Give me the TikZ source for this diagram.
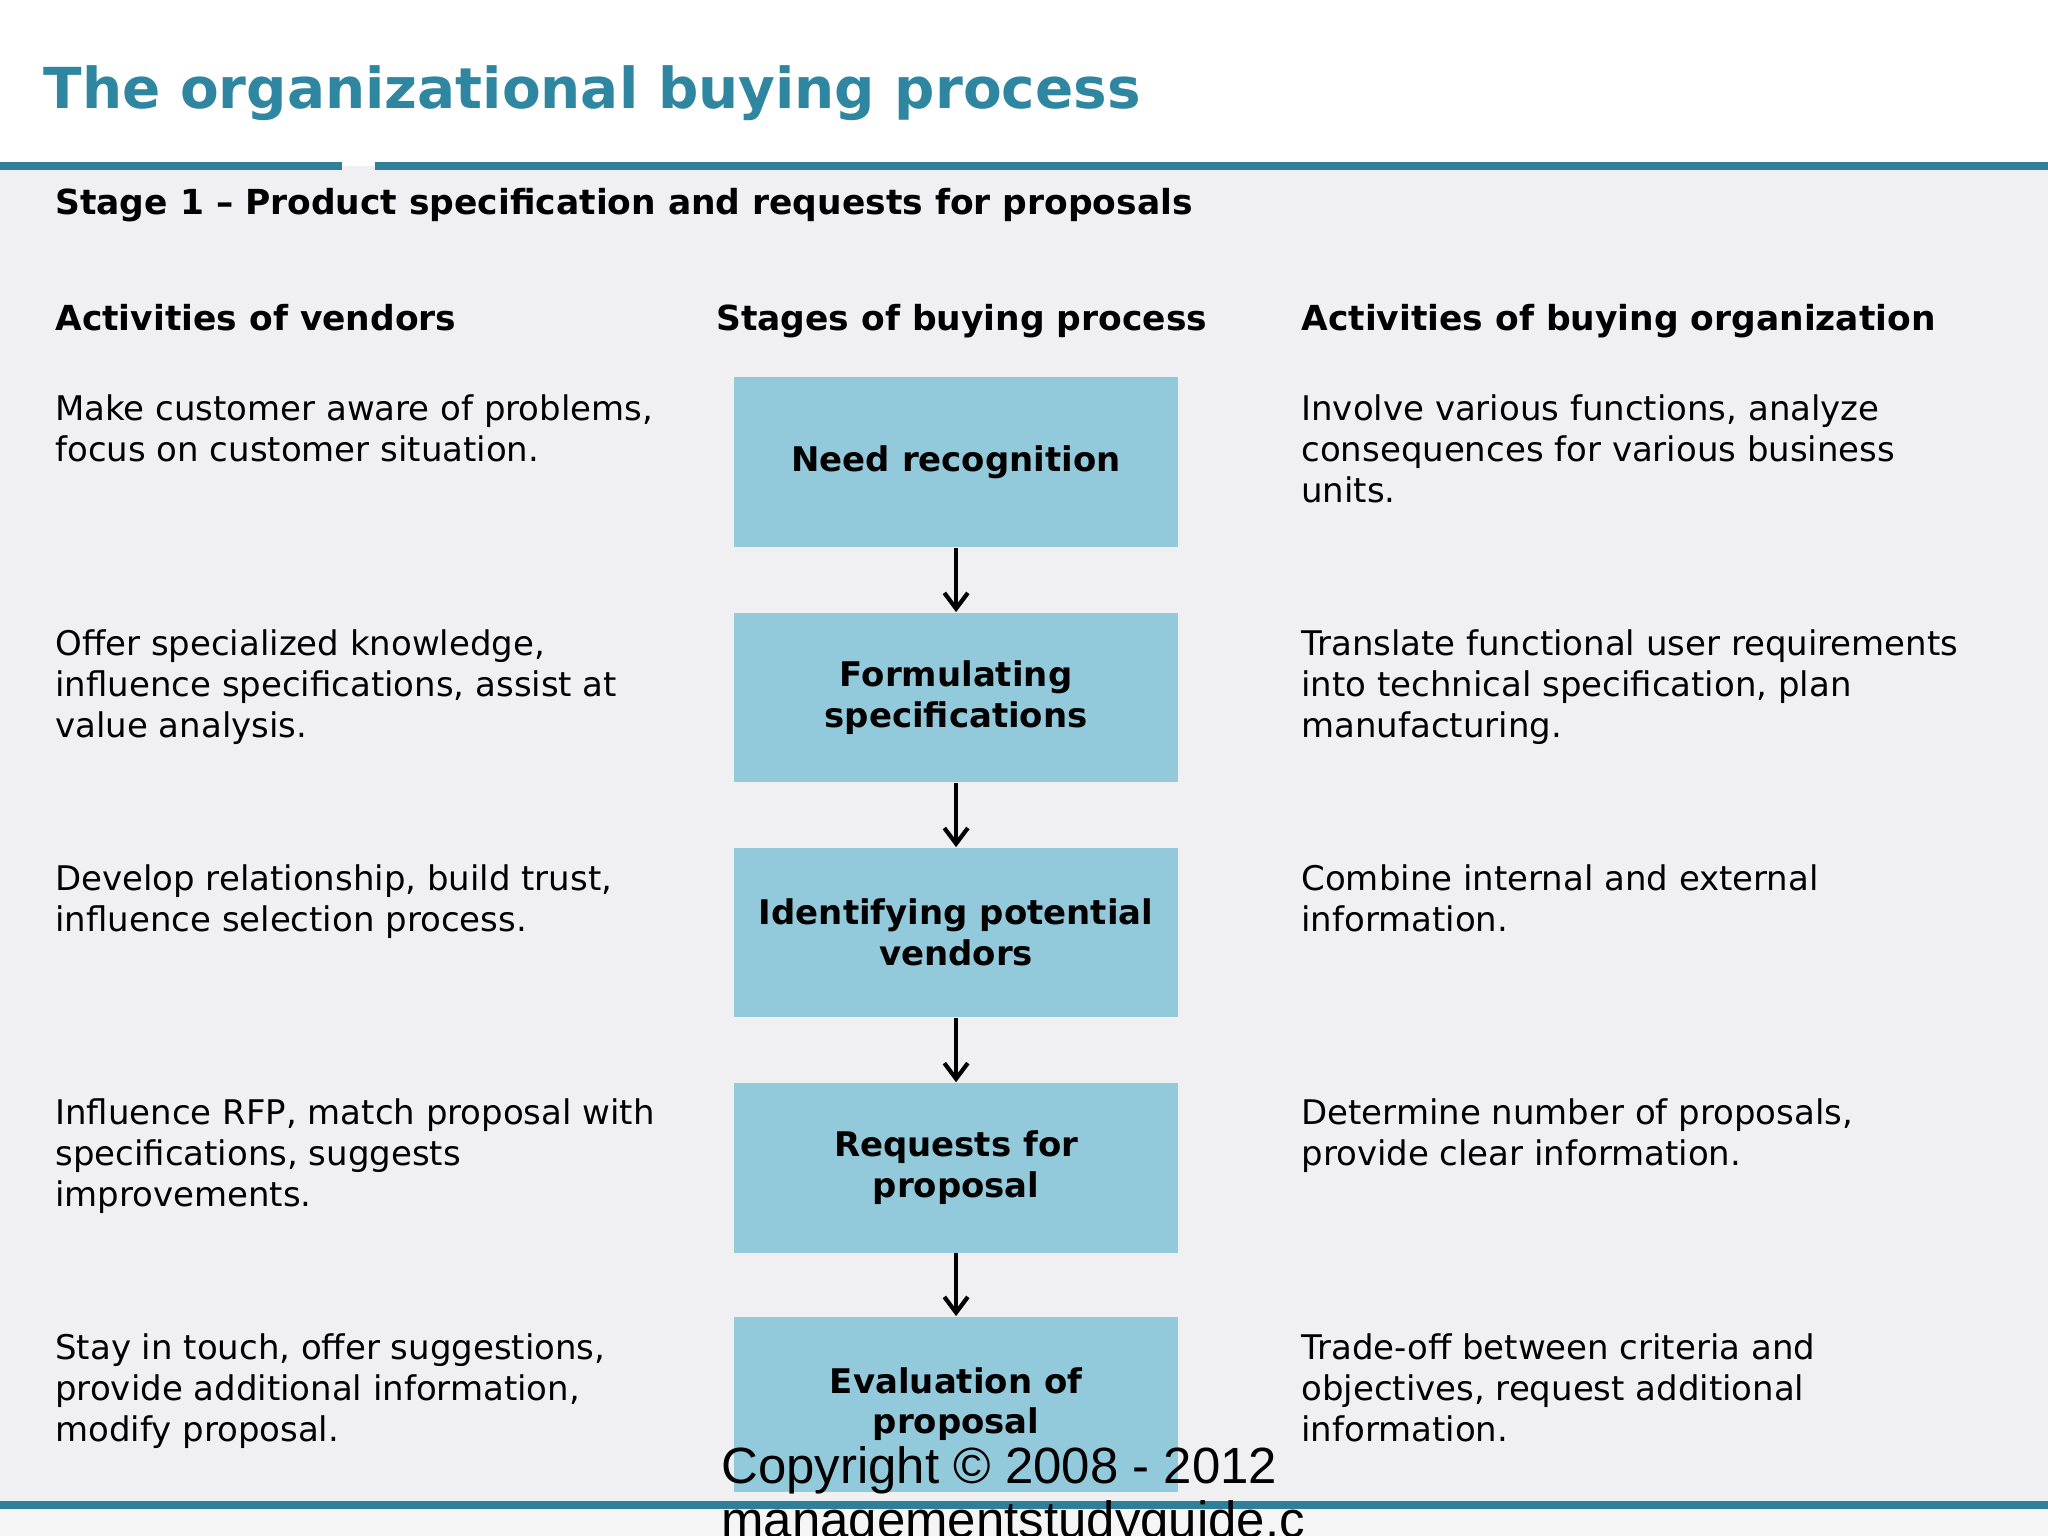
\documentclass[tikz,border=0pt]{standalone}
\usepackage{fontspec}
\setmainfont{DejaVu Sans}
\newfontfamily\arialf{Liberation Sans}
\definecolor{teal}{HTML}{2E7F99}
\definecolor{ttl}{HTML}{2F86A1}
\definecolor{bg}{HTML}{F0F0F2}
\definecolor{boxc}{HTML}{93CADB}
\tikzset{
 stagebox/.style={fill=boxc,minimum width=170pt,minimum height=65pt,inner sep=0pt,align=center,font=\fontsize{13}{15.5}\selectfont\bfseries},
 desc/.style={anchor=north west,inner sep=0pt,align=left,font=\fontsize{13}{15.6}\selectfont},
 head/.style={anchor=base west,inner sep=0pt,font=\fontsize{13.2}{15}\selectfont\bfseries},
 arr/.style={-{Straight Barb[length=6pt,width=9pt,line width=1.6pt]},line width=1.8pt}
}
\usetikzlibrary{arrows.meta}
\begin{document}
\begin{tikzpicture}[x=0.5pt,y=-0.5pt]
\useasboundingbox (0,0) rectangle (1568,1176);
\clip (0,0) rectangle (1568,1176);
\fill[white] (0,0) rectangle (1568,127);
\fill[bg] (0,127) rectangle (1568,1152);
\fill[bg!70!white] (0,1152) rectangle (1568,1176);
\fill[teal] (0,124) rectangle (262,130);
\fill[teal] (287,124) rectangle (1568,130);
\fill[teal] (0,1149) rectangle (1568,1155);
\node[anchor=base west,inner sep=0pt,text=ttl,font=\fontsize{21.6}{26}\selectfont\bfseries] (title) at (33,83) {The organizational buying process};
\node[head] (stage) at (42,164) {Stage 1 – Product specification and requests for proposals};
\node[head] (h1) at (42,253) {Activities of vendors};
\node[head] (h2) at (548,253) {Stages of buying process};
\node[head] (h3) at (996,253) {Activities of buying organization};
\node[stagebox] (s1) at (732,354) {Need recognition};
\node[stagebox] (s2) at (732,534) {Formulating\\specifications};
\node[stagebox] (s3) at (732,714) {Identifying potential\\vendors};
\node[stagebox] (s4) at (732,894) {Requests for\\proposal};
\node[stagebox, minimum height=67pt] (s5) at (732,1075) {Evaluation of\\proposal};
\draw[arr] (s1) -- (s2);
\draw[arr] (s2) -- (s3);
\draw[arr] (s3) -- (s4);
\draw[arr] (s4) -- (s5);
\node[desc] (v1) at (42,302) {Make customer aware of problems,\\focus on customer situation.};
\node[desc] (v2) at (42,482) {Offer specialized knowledge,\\influence specifications, assist at\\value analysis.};
\node[desc] (v3) at (42,662) {Develop relationship, build trust,\\influence selection process.};
\node[desc] (v4) at (42,841) {Influence RFP, match proposal with\\specifications, suggests\\improvements.};
\node[desc] (v5) at (42,1021) {Stay in touch, offer suggestions,\\provide additional information,\\modify proposal.};
\node[desc] (b1) at (996,302) {Involve various functions, analyze\\consequences for various business\\units.};
\node[desc] (b2) at (996,482) {Translate functional user requirements\\into technical specification, plan\\manufacturing.};
\node[desc] (b3) at (996,662) {Combine internal and external\\information.};
\node[desc] (b4) at (996,841) {Determine number of proposals,\\provide clear information.};
\node[desc] (b5) at (996,1021) {Trade-off between criteria and\\objectives, request additional\\information.};
\node[anchor=base west,inner sep=0pt,font=\arialf\fontsize{19.5}{26}\selectfont] (copy) at (552,1136) {Copyright © 2008 - 2012};
\node[anchor=base west,inner sep=0pt,font=\arialf\fontsize{19.5}{26}\selectfont] (copy2) at (552,1177) {managementstudyguide.c};
\end{tikzpicture}
\end{document}
